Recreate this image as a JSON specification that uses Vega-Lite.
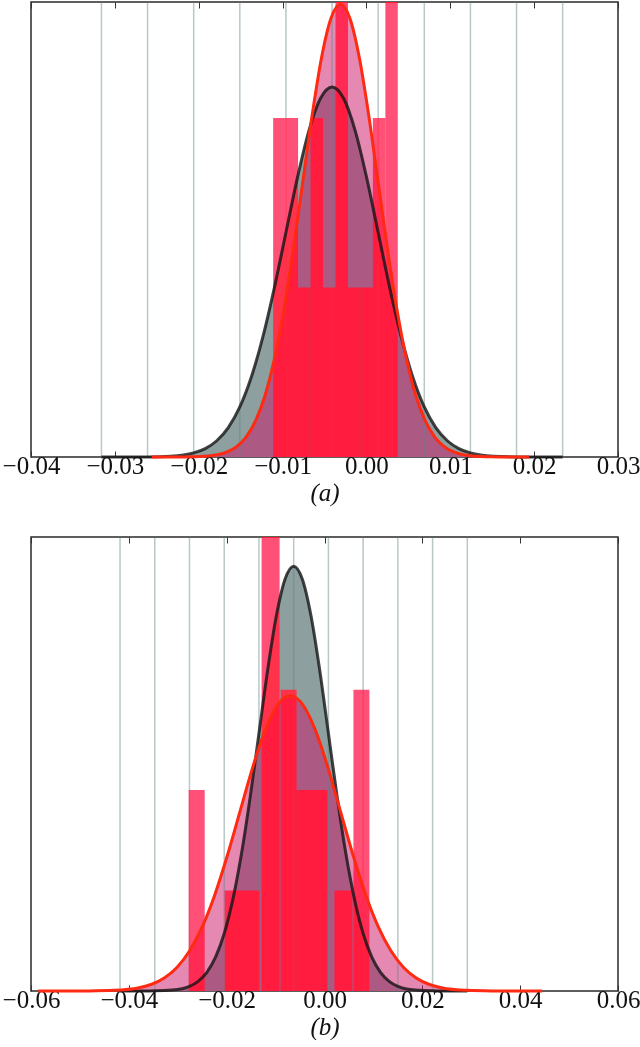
{
  "$schema": "https://vega.github.io/schema/vega-lite/v6.json",
  "padding": {"left": 1, "top": -3, "right": 0, "bottom": 0},
  "spacing": 29,
  "background": "white",
  "config": {
    "view": {"stroke": "#2a2a2a", "strokeWidth": 1.5},
    "font": "Liberation Serif"
  },
  "datasets": {
    "cA": [
      {"s":"g","x":-0.0316,"y":0},{"s":"g","x":-0.02885,"y":0.0001},{"s":"g","x":-0.0261,"y":0.0007},{"s":"g","x":-0.02335,"y":0.0048},{"s":"g","x":-0.0206,"y":0.0243},{"s":"g","x":-0.019225,"y":0.0498},{"s":"g","x":-0.01785,"y":0.0959},{"s":"g","x":-0.016475,"y":0.1737},{"s":"g","x":-0.0151,"y":0.2954},{"s":"g","x":-0.013725,"y":0.4721},{"s":"g","x":-0.01235,"y":0.7087},{"s":"g","x":-0.010975,"y":0.9994},{"s":"g","x":-0.0096,"y":1.3241},{"s":"g","x":-0.008225,"y":1.6478},{"s":"g","x":-0.00685,"y":1.9265},{"s":"g","x":-0.005475,"y":2.1158},{"s":"g","x":-0.0041,"y":2.183},{"s":"g","x":-0.002725,"y":2.1158},{"s":"g","x":-0.00135,"y":1.9265},{"s":"g","x":0.000025,"y":1.6478},{"s":"g","x":0.0014,"y":1.3241},{"s":"g","x":0.002775,"y":0.9994},{"s":"g","x":0.00415,"y":0.7087},{"s":"g","x":0.005525,"y":0.4721},{"s":"g","x":0.0069,"y":0.2954},{"s":"g","x":0.008275,"y":0.1737},{"s":"g","x":0.00965,"y":0.0959},{"s":"g","x":0.011025,"y":0.0498},{"s":"g","x":0.0124,"y":0.0243},{"s":"g","x":0.01515,"y":0.0048},{"s":"g","x":0.0179,"y":0.0007},{"s":"g","x":0.02065,"y":0.0001},{"s":"g","x":0.0234,"y":0},
      {"s":"r","x":-0.0256,"y":0},{"s":"r","x":-0.02335,"y":0.0001},{"s":"r","x":-0.0211,"y":0.0009},{"s":"r","x":-0.01885,"y":0.0058},{"s":"r","x":-0.0166,"y":0.0297},{"s":"r","x":-0.015475,"y":0.0609},{"s":"r","x":-0.01435,"y":0.1173},{"s":"r","x":-0.013225,"y":0.2124},{"s":"r","x":-0.0121,"y":0.3614},{"s":"r","x":-0.010975,"y":0.5774},{"s":"r","x":-0.00985,"y":0.8668},{"s":"r","x":-0.008725,"y":1.2224},{"s":"r","x":-0.0076,"y":1.6194},{"s":"r","x":-0.006475,"y":2.0154},{"s":"r","x":-0.00535,"y":2.3563},{"s":"r","x":-0.004225,"y":2.5878},{"s":"r","x":-0.0031,"y":2.67},{"s":"r","x":-0.001975,"y":2.5878},{"s":"r","x":-0.00085,"y":2.3563},{"s":"r","x":0.000275,"y":2.0154},{"s":"r","x":0.0014,"y":1.6194},{"s":"r","x":0.002525,"y":1.2224},{"s":"r","x":0.00365,"y":0.8668},{"s":"r","x":0.004775,"y":0.5774},{"s":"r","x":0.0059,"y":0.3614},{"s":"r","x":0.007025,"y":0.2124},{"s":"r","x":0.00815,"y":0.1173},{"s":"r","x":0.009275,"y":0.0609},{"s":"r","x":0.0104,"y":0.0297},{"s":"r","x":0.01265,"y":0.0058},{"s":"r","x":0.0149,"y":0.0009},{"s":"r","x":0.01715,"y":0.0001},{"s":"r","x":0.0194,"y":0}
    ],
    "cB": [
      {"s":"g","x":-0.0418,"y":0},{"s":"g","x":-0.03825,"y":0.0002},{"s":"g","x":-0.0347,"y":0.0014},{"s":"g","x":-0.03115,"y":0.0093},{"s":"g","x":-0.0276,"y":0.047},{"s":"g","x":-0.025825,"y":0.0964},{"s":"g","x":-0.02405,"y":0.1859},{"s":"g","x":-0.022275,"y":0.3365},{"s":"g","x":-0.0205,"y":0.5725},{"s":"g","x":-0.018725,"y":0.9148},{"s":"g","x":-0.01695,"y":1.3733},{"s":"g","x":-0.015175,"y":1.9366},{"s":"g","x":-0.0134,"y":2.5656},{"s":"g","x":-0.011625,"y":3.193},{"s":"g","x":-0.00985,"y":3.733},{"s":"g","x":-0.008075,"y":4.0998},{"s":"g","x":-0.0063,"y":4.23},{"s":"g","x":-0.004525,"y":4.0998},{"s":"g","x":-0.00275,"y":3.733},{"s":"g","x":-0.000975,"y":3.193},{"s":"g","x":0.0008,"y":2.5656},{"s":"g","x":0.002575,"y":1.9366},{"s":"g","x":0.00435,"y":1.3733},{"s":"g","x":0.006125,"y":0.9148},{"s":"g","x":0.0079,"y":0.5725},{"s":"g","x":0.009675,"y":0.3365},{"s":"g","x":0.01145,"y":0.1859},{"s":"g","x":0.013225,"y":0.0964},{"s":"g","x":0.015,"y":0.047},{"s":"g","x":0.01855,"y":0.0093},{"s":"g","x":0.0221,"y":0.0014},{"s":"g","x":0.02565,"y":0.0002},{"s":"g","x":0.0292,"y":0},
      {"s":"r","x":-0.0585,"y":0},{"s":"r","x":-0.05335,"y":0.0001},{"s":"r","x":-0.0482,"y":0.001},{"s":"r","x":-0.04305,"y":0.0064},{"s":"r","x":-0.0379,"y":0.0327},{"s":"r","x":-0.035325,"y":0.067},{"s":"r","x":-0.03275,"y":0.1292},{"s":"r","x":-0.030175,"y":0.2339},{"s":"r","x":-0.0276,"y":0.3979},{"s":"r","x":-0.025025,"y":0.6358},{"s":"r","x":-0.02245,"y":0.9545},{"s":"r","x":-0.019875,"y":1.346},{"s":"r","x":-0.0173,"y":1.7832},{"s":"r","x":-0.014725,"y":2.2192},{"s":"r","x":-0.01215,"y":2.5946},{"s":"r","x":-0.009575,"y":2.8495},{"s":"r","x":-0.007,"y":2.94},{"s":"r","x":-0.004425,"y":2.8495},{"s":"r","x":-0.00185,"y":2.5946},{"s":"r","x":0.000725,"y":2.2192},{"s":"r","x":0.0033,"y":1.7832},{"s":"r","x":0.005875,"y":1.346},{"s":"r","x":0.00845,"y":0.9545},{"s":"r","x":0.011025,"y":0.6358},{"s":"r","x":0.0136,"y":0.3979},{"s":"r","x":0.016175,"y":0.2339},{"s":"r","x":0.01875,"y":0.1292},{"s":"r","x":0.021325,"y":0.067},{"s":"r","x":0.0239,"y":0.0327},{"s":"r","x":0.02905,"y":0.0064},{"s":"r","x":0.0342,"y":0.001},{"s":"r","x":0.03935,"y":0.0001},{"s":"r","x":0.0445,"y":0}
    ],
    "hA": [
      {"x0":-0.01112,"x1":-0.00963,"n":2},{"x0":-0.00963,"x1":-0.00815,"n":2},{"x0":-0.00815,"x1":-0.00666,"n":1},{"x0":-0.00666,"x1":-0.00518,"n":2},{"x0":-0.00518,"x1":-0.00369,"n":1},{"x0":-0.00369,"x1":-0.0022,"n":4},{"x0":-0.0022,"x1":-0.00072,"n":1},{"x0":-0.00072,"x1":0.00077,"n":1},{"x0":0.00077,"x1":0.00226,"n":2},{"x0":0.00226,"x1":0.00374,"n":4}
    ],
    "hB": [
      {"x0":-0.02776,"x1":-0.02449,"n":2},{"x0":-0.02041,"x1":-0.01653,"n":1},{"x0":-0.01653,"x1":-0.01327,"n":1},{"x0":-0.01286,"x1":-0.00918,"n":5},{"x0":-0.00898,"x1":-0.00571,"n":3},{"x0":-0.00571,"x1":-0.00184,"n":2},{"x0":-0.00184,"x1":0.00061,"n":2},{"x0":0.00204,"x1":0.00571,"n":1},{"x0":0.00592,"x1":0.00918,"n":3}
    ],
    "gA": [{"x":-0.0316},{"x":-0.0261},{"x":-0.0206},{"x":-0.0151},{"x":-0.0096},{"x":-0.0041},{"x":0.0014},{"x":0.0069},{"x":0.0124},{"x":0.0179},{"x":0.0234}],
    "gB": [{"x":-0.0418},{"x":-0.0347},{"x":-0.0276},{"x":-0.0205},{"x":-0.0134},{"x":-0.0063},{"x":0.0008},{"x":0.0079},{"x":0.015},{"x":0.0221},{"x":0.0292}]
  },
  "vconcat": [
    {
      "width": 587,
      "height": 455,
      "resolve": {"axis": {"x": "independent"}},
      "layer": [
        {
          "data": {"name": "cA"},
          "transform": [{"filter": "datum.s == 'g'"}],
          "mark": {"type": "area", "color": "#8d9f9f", "interpolate": "monotone"},
          "encoding": {
            "x": {"field": "x", "type": "quantitative", "scale": {"domain": [-0.04, 0.03], "nice": false, "zero": false},
              "axis": {"orient": "bottom", "values": [-0.04,-0.03,-0.02,-0.01,0,0.01,0.02,0.03], "format": ".2f", "grid": false, "domain": false,
                "labelFlush": false, "labelOverlap": false,
                "tickSize": -6, "tickColor": "#333", "labelPadding": 2, "labelFont": "Liberation Serif", "labelFontSize": 25, "labelColor": "#111",
                "title": "(a)", "titleFont": "Liberation Serif", "titleFontSize": 25, "titleFontStyle": "italic", "titleFontWeight": "normal", "titleColor": "#111", "titlePadding": 2}},
            "y": {"field": "y", "type": "quantitative", "scale": {"domain": [0, 2.684], "nice": false, "clamp": true}, "axis": null}
          }
        },
        {
          "data": {"name": "cA"},
          "transform": [{"filter": "datum.s == 'r'"}],
          "mark": {"type": "area", "color": "#cc1468", "opacity": 0.5, "interpolate": "monotone"},
          "encoding": {
            "x": {"field": "x", "type": "quantitative", "axis": null},
            "y": {"field": "y", "type": "quantitative", "axis": null}
          }
        },
        {
          "data": {"name": "gA"},
          "mark": {"type": "rule", "color": "#648282", "opacity": 0.45, "strokeWidth": 1.5},
          "encoding": {
            "x": {"field": "x", "type": "quantitative",
              "axis": {"orient": "top", "values": [-0.04,-0.03,-0.02,-0.01,0,0.01,0.02,0.03], "labels": false, "grid": false, "domain": false, "tickSize": -6, "tickColor": "#333", "title": null}}
          }
        },
        {
          "data": {"name": "hA"},
          "mark": {"type": "rect", "color": "#ff283c", "blend": "hard-light"},
          "encoding": {
            "x": {"field": "x0", "type": "quantitative", "axis": null},
            "x2": {"field": "x1"},
            "y": {"field": "n", "type": "quantitative", "axis": null},
            "y2": {"datum": 0}
          }
        },
        {
          "data": {"name": "cA"},
          "transform": [{"filter": "datum.s == 'g'"}],
          "mark": {"type": "line", "color": "#141414", "opacity": 0.8, "strokeWidth": 3, "interpolate": "monotone"},
          "encoding": {
            "x": {"field": "x", "type": "quantitative", "axis": null},
            "y": {"field": "y", "type": "quantitative", "axis": null}
          }
        },
        {
          "data": {"name": "cA"},
          "transform": [{"filter": "datum.s == 'r'"}],
          "mark": {"type": "line", "color": "#ff2a12", "strokeWidth": 3, "interpolate": "monotone"},
          "encoding": {
            "x": {"field": "x", "type": "quantitative", "axis": null},
            "y": {"field": "y", "type": "quantitative", "axis": null}
          }
        }
      ]
    },
    {
      "width": 587,
      "height": 454,
      "resolve": {"axis": {"x": "independent"}},
      "layer": [
        {
          "data": {"name": "cB"},
          "transform": [{"filter": "datum.s == 'g'"}],
          "mark": {"type": "area", "color": "#8d9f9f", "interpolate": "monotone"},
          "encoding": {
            "x": {"field": "x", "type": "quantitative", "scale": {"domain": [-0.06, 0.06], "nice": false, "zero": false},
              "axis": {"orient": "bottom", "values": [-0.06,-0.04,-0.02,0,0.02,0.04,0.06], "format": ".2f", "grid": false, "domain": false,
                "labelFlush": false, "labelOverlap": false,
                "tickSize": -6, "tickColor": "#333", "labelPadding": 2, "labelFont": "Liberation Serif", "labelFontSize": 25, "labelColor": "#111",
                "title": "(b)", "titleFont": "Liberation Serif", "titleFontSize": 25, "titleFontStyle": "italic", "titleFontWeight": "normal", "titleColor": "#111", "titlePadding": 2}},
            "y": {"field": "y", "type": "quantitative", "scale": {"domain": [0, 4.52], "nice": false, "clamp": true}, "axis": null}
          }
        },
        {
          "data": {"name": "cB"},
          "transform": [{"filter": "datum.s == 'r'"}],
          "mark": {"type": "area", "color": "#cc1468", "opacity": 0.5, "interpolate": "monotone"},
          "encoding": {
            "x": {"field": "x", "type": "quantitative", "axis": null},
            "y": {"field": "y", "type": "quantitative", "axis": null}
          }
        },
        {
          "data": {"name": "gB"},
          "mark": {"type": "rule", "color": "#648282", "opacity": 0.45, "strokeWidth": 1.5},
          "encoding": {
            "x": {"field": "x", "type": "quantitative",
              "axis": {"orient": "top", "values": [-0.06,-0.04,-0.02,0,0.02,0.04,0.06], "labels": false, "grid": false, "domain": false, "tickSize": -6, "tickColor": "#333", "title": null}}
          }
        },
        {
          "data": {"name": "hB"},
          "mark": {"type": "rect", "color": "#ff283c", "blend": "hard-light"},
          "encoding": {
            "x": {"field": "x0", "type": "quantitative", "axis": null},
            "x2": {"field": "x1"},
            "y": {"field": "n", "type": "quantitative", "axis": null},
            "y2": {"datum": 0}
          }
        },
        {
          "data": {"name": "cB"},
          "transform": [{"filter": "datum.s == 'g'"}],
          "mark": {"type": "line", "color": "#141414", "opacity": 0.8, "strokeWidth": 3, "interpolate": "monotone"},
          "encoding": {
            "x": {"field": "x", "type": "quantitative", "axis": null},
            "y": {"field": "y", "type": "quantitative", "axis": null}
          }
        },
        {
          "data": {"name": "cB"},
          "transform": [{"filter": "datum.s == 'r'"}],
          "mark": {"type": "line", "color": "#ff2a12", "strokeWidth": 3, "interpolate": "monotone"},
          "encoding": {
            "x": {"field": "x", "type": "quantitative", "axis": null},
            "y": {"field": "y", "type": "quantitative", "axis": null}
          }
        }
      ]
    }
  ]
}
